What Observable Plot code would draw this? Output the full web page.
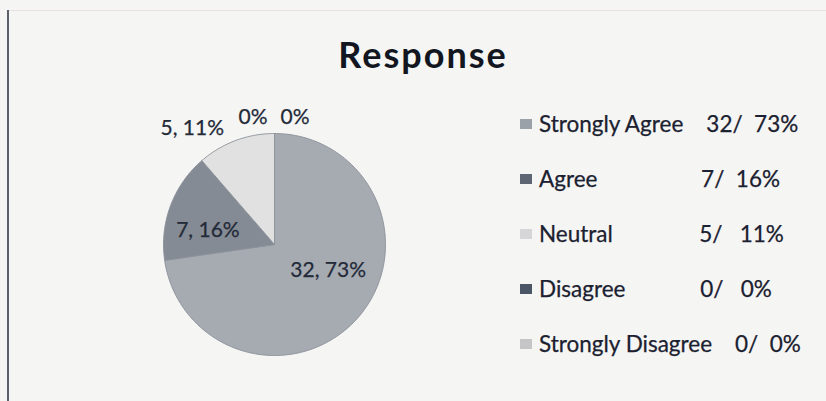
<!DOCTYPE html>
<html>
<head>
<meta charset="utf-8">
<script src="https://cdn.jsdelivr.net/npm/d3@7"></script>
<script src="https://cdn.jsdelivr.net/npm/@observablehq/plot@0.6"></script>
<style>
  html, body { margin: 0; padding: 0; background: #f5f5f3; }
  #wrap { position: relative; width: 826px; height: 401px; overflow: hidden; background: #f5f5f3; font-family: Lato, "Open Sans", sans-serif; color: #1b2130; }
  #frameL { position: absolute; left: 7px; top: 10px; width: 2px; height: 391px; background: #5a5f6a; }
  #frameT { position: absolute; left: 9px; top: 10px; width: 817px; height: 1px; background: #eadfe0; }
  #title { position: absolute; left: 0; width: 846px; top: 32px; text-align: center; font-size: 36px; letter-spacing: 2px; font-weight: bold; color: #121620; line-height: 44px; }
  #legend { position: absolute; left: 520px; top: 110px; }
  .item { position: absolute; left: 0; white-space: pre; font-size: 22.5px; line-height: 28px; display: flex; align-items: center; -webkit-text-stroke: 0.25px #1b2130; }
  .sw { width: 12px; height: 10px; margin-right: 7px; display: inline-block; -webkit-text-stroke: 0; }
  #chart { position: absolute; left: 0; top: 0; }
</style>
</head>
<body>
<div id="wrap">
  <div id="chart"></div>
  <div id="frameL"></div>
  <div id="frameT"></div>
  <div id="title">Response</div>
  <div id="legend"></div>
</div>
<script>
const categories = ["Strongly Agree", "Agree", "Neutral", "Disagree", "Strongly Disagree"];
const counts = [32, 7, 5, 0, 0];
const percents = [73, 16, 11, 0, 0];
const legendLabels = [
  "Strongly Agree    32/  73%",
  "Agree                  7/  16%",
  "Neutral               5/   11%",
  "Disagree             0/   0%",
  "Strongly Disagree    0/  0%"
];

const sliceColors = ["#a6abb2", "#858b94", "#e1e1e2", "#4f5968", "#c8c8ca"];
const swatchColors = ["#9aa1a9", "#5d6672", "#d6d6d8", "#4a5566", "#c5c5c8"];

const rows = categories.map((c, i) => ({cat: c, count: counts[i], pct: percents[i], color: sliceColors[i], idx: i}));
const arcs = d3.pie().sort(null).value(d => d.count)(rows);

// polygon outline points for each slice
const pts = [];
for (const a of arcs) {
  if (a.data.count === 0) continue;
  pts.push({cat: a.data.cat, color: a.data.color, u: 0, v: 0});
  const n = Math.max(2, Math.ceil((a.endAngle - a.startAngle) / (Math.PI / 180)));
  for (let k = 0; k <= n; k++) {
    const t = a.startAngle + (a.endAngle - a.startAngle) * k / n;
    pts.push({cat: a.data.cat, color: a.data.color, u: Math.sin(t), v: -Math.cos(t)});
  }
  pts.push({cat: a.data.cat, color: a.data.color, u: 0, v: 0});
}

// label placement ("best fit": inside on an ellipse, small slices outside)
const inside = [], outLeft = [], outRight = [];
let zeroSeen = 0;
for (const a of arcs) {
  const d = a.data;
  const mid = (a.startAngle + a.endAngle) / 2;
  const frac = (a.endAngle - a.startAngle) / (2 * Math.PI);
  if (d.count === 0) {
    const lab = {u: 0, v: -1.15, text: d.pct + "%"};
    (zeroSeen++ === 0 ? outLeft : outRight).push(lab);
  } else if (frac >= 0.13) {
    inside.push({u: 0.64 * Math.sin(mid), v: -0.36 * Math.cos(mid), text: d.count + ", " + d.pct + "%"});
  } else {
    const r = 1.12;
    const lab = {u: r * Math.sin(mid), v: -r * Math.cos(mid), text: d.count + ", " + d.pct + "%"};
    (Math.sin(mid) < 0 ? outLeft : outRight).push(lab);
  }
}

const cx = 274, cy = 244, R = 111, W = 826, H = 401;
const fontStyle = {fontSize: 21, fill: "#232a38", stroke: "#232a38", strokeWidth: 0.25, fontFamily: "Lato, 'Open Sans', sans-serif"};

const chart = Plot.plot({
  width: W,
  height: H,
  margin: 0,
  style: {background: "transparent", overflow: "visible"},
  x: {domain: [-cx / R, (W - cx) / R], range: [0, W], axis: null},
  y: {domain: [-cy / R, (H - cy) / R], range: [0, H], axis: null},
  color: {type: "identity"},
  marks: [
    Plot.line(pts, {x: "u", y: "v", z: "cat", fill: "color", stroke: "#8a9099", strokeWidth: 0.9, curve: "linear"}),
    Plot.text(inside, {x: "u", y: "v", text: "text", textAnchor: "middle", ...fontStyle}),
    Plot.text(outLeft, {x: "u", y: "v", text: "text", textAnchor: "end", dx: -7, ...fontStyle}),
    Plot.text(outRight, {x: "u", y: "v", text: "text", textAnchor: "start", dx: 6, ...fontStyle})
  ]
});
document.getElementById("chart").appendChild(chart);

const legend = document.getElementById("legend");
legendLabels.forEach((lab, i) => {
  const it = document.createElement("div");
  it.className = "item";
  it.style.top = (i * 55) + "px";
  const sw = document.createElement("span");
  sw.className = "sw";
  sw.style.background = swatchColors[i];
  const tx = document.createElement("span");
  tx.textContent = lab;
  it.appendChild(sw);
  it.appendChild(tx);
  legend.appendChild(it);
});
</script>
</body>
</html>
